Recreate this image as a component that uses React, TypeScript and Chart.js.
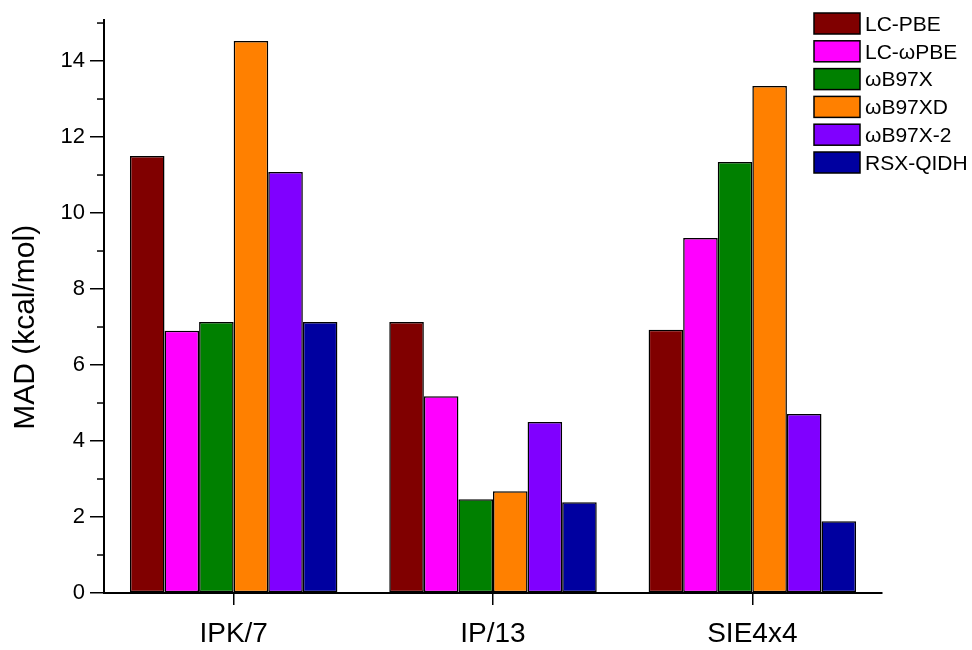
import React, { useEffect, useRef } from "react";
import { Chart, registerables } from "chart.js";

Chart.register(...registerables);

const categories = ["IPK/7", "IP/13", "SIE4x4"];
const methods = ["LC-PBE", "LC-ωPBE", "ωB97X", "ωB97XD", "ωB97X-2", "RSX-QIDH"];
const colors = ["#800000", "#FF00FF", "#008000", "#FF8000", "#8000FF", "#0000A0"];

const lcPbe = [11.5, 7.13, 6.93];
const lcWpbe = [6.9, 5.18, 9.34];
const wb97x = [7.13, 2.47, 11.34];
const wb97xd = [14.53, 2.68, 13.34];
const wb97x2 = [11.08, 4.5, 4.71];
const rsxQidh = [7.13, 2.39, 1.89];
const seriesValues = [lcPbe, lcWpbe, wb97x, wb97xd, wb97x2, rsxQidh];

const yMajorTicks = [0, 2, 4, 6, 8, 10, 12, 14];
const yMinorTicks = [1, 3, 5, 7, 9, 11, 13, 15];
const yTitle = "MAD (kcal/mol)";

const FONT = '"Liberation Sans", Arial, Helvetica, sans-serif';

const minorTickPlugin = {
  id: "minorTicks",
  afterDraw(chart: any) {
    const scale = chart.scales.y;
    const ctx = chart.ctx;
    const left = chart.chartArea.left;
    ctx.save();
    ctx.strokeStyle = "#000";
    ctx.lineWidth = 1.5;
    yMinorTicks.forEach((v) => {
      if (v > scale.max) return;
      const y = scale.getPixelForValue(v);
      ctx.beginPath();
      ctx.moveTo(left - 7, y);
      ctx.lineTo(left, y);
      ctx.stroke();
    });
    ctx.restore();
  },
};

const boxLegendPlugin = {
  id: "boxLegend",
  afterDraw(chart: any) {
    const ctx = chart.ctx;
    const boxLeft = chart.chartArea.right - 68;
    const top = 13;
    const step = 27.8;
    const boxW = 46;
    const boxH = 21;
    ctx.save();
    chart.data.datasets.forEach((ds: any, i: number) => {
      const y = top + i * step;
      ctx.fillStyle = ds.backgroundColor;
      ctx.fillRect(boxLeft, y, boxW, boxH);
      ctx.strokeStyle = "#000";
      ctx.lineWidth = 1.5;
      ctx.strokeRect(boxLeft, y, boxW, boxH);
      ctx.fillStyle = "#000";
      ctx.font = `21px ${FONT}`;
      ctx.textAlign = "left";
      ctx.textBaseline = "middle";
      ctx.fillText(ds.label, boxLeft + boxW + 5, y + boxH / 2 + 1.5);
    });
    ctx.restore();
  },
};

export default function App() {
  const canvasRef = useRef<HTMLCanvasElement | null>(null);

  useEffect(() => {
    document.body.style.margin = "0";
    const canvas = canvasRef.current;
    if (!canvas) return;
    const chart = new Chart(canvas, {
      type: "bar",
      data: {
        labels: categories,
        datasets: methods.map((m, i) => ({
          label: m,
          data: seriesValues[i],
          backgroundColor: colors[i],
          borderColor: "#000",
          borderWidth: 1.5,
          borderSkipped: false,
          categoryPercentage: 0.8,
          barPercentage: 1.0,
        })),
      },
      options: {
        responsive: false,
        animation: false,
        devicePixelRatio: 1,
        layout: { padding: { top: 20, right: 90, bottom: 0, left: 0 } },
        plugins: {
          legend: { display: false },
          tooltip: { enabled: false },
        },
        scales: {
          x: {
            type: "category",
            offset: true,
            border: { display: true, color: "#000", width: 2 },
            grid: {
              display: true,
              offset: false,
              drawOnChartArea: false,
              drawTicks: true,
              tickLength: 12,
              color: "#000",
              lineWidth: 1.5,
            },
            ticks: {
              color: "#000",
              padding: 12,
              font: { family: FONT, size: 28 },
              maxRotation: 0,
            },
            afterFit(scale: any) {
              scale.height = 57;
            },
          },
          y: {
            min: 0,
            max: 15.08,
            border: { display: true, color: "#000", width: 2 },
            grid: {
              display: true,
              drawOnChartArea: false,
              drawTicks: true,
              tickLength: 14,
              color: "#000",
              lineWidth: 1.5,
            },
            afterBuildTicks(scale: any) {
              scale.ticks = yMajorTicks.map((v) => ({ value: v }));
            },
            ticks: {
              color: "#000",
              padding: 5,
              font: { family: FONT, size: 22 },
            },
            title: {
              display: true,
              text: yTitle + "     ",
              color: "#000",
              font: { family: FONT, size: 30 },
              padding: { top: 8, bottom: 0 },
            },
            afterFit(scale: any) {
              scale.width = 104;
            },
          },
        },
      },
      plugins: [minorTickPlugin, boxLegendPlugin],
    });
    return () => chart.destroy();
  }, []);

  return (
    <div style={{ position: "absolute", left: 0, top: 0, width: 972, height: 650, background: "#fff" }}>
      <canvas ref={canvasRef} width={972} height={650} />
    </div>
  );
}
